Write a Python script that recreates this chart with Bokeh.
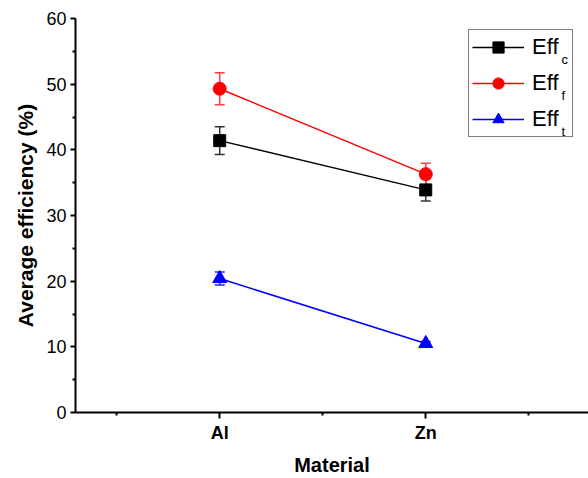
from bokeh.plotting import figure
from bokeh.models import (ColumnDataSource, Whisker, TeeHead, FixedTicker, Legend,
                          LegendItem, Label, Range1d)
from bokeh.embed import file_html
from bokeh.resources import INLINE

# ---- data ----
materials = ["Al", "Zn"]
eff_c = [41.4, 33.9]
eff_c_err = [2.1, 1.7]
eff_f = [49.3, 36.3]
eff_f_err = [2.45, 1.65]
eff_t = [20.4, 10.5]
eff_t_err = [1.0, 0.3]
series_names = ["Eff", "Eff", "Eff"]
series_subs = ["c", "f", "t"]
y_ticks = [0, 10, 20, 30, 40, 50, 60]

xs = [i + 1 for i in range(len(materials))]

FONT = "Liberation Sans"

p = figure(width=588, height=478, output_backend="svg", toolbar_location=None,
           x_range=Range1d(0.3, 2.79), y_range=Range1d(0, 60),
           min_border_left=75, min_border_right=0, min_border_top=18,
           min_border_bottom=66)
p.background_fill_color = "white"
p.border_fill_color = "white"
p.outline_line_color = None
p.grid.visible = False

series = [
    (eff_c, eff_c_err, "#000000", "square", 12, "#333333"),
    (eff_f, eff_f_err, "#ff0000", "circle", 13, "#ff4040"),
    (eff_t, eff_t_err, "#0000ff", "triangle", 14, "#2020ff"),
]

items = []
for k, (vals, errs, col, mk, sz, ecol) in enumerate(series):
    src = ColumnDataSource(dict(x=xs, y=vals,
                                lo=[v - e for v, e in zip(vals, errs)],
                                hi=[v + e for v, e in zip(vals, errs)]))
    w = Whisker(source=src, base="x", upper="hi", lower="lo",
                line_color=ecol, line_width=1.5,
                upper_head=TeeHead(size=10, line_color=ecol, line_width=1.5),
                lower_head=TeeHead(size=10, line_color=ecol, line_width=1.5))
    p.add_layout(w)
    ln = p.line("x", "y", source=src, line_color=col, line_width=1.5)
    sc = p.scatter("x", "y", source=src, marker=mk, size=sz,
                   fill_color=col, line_color=col)
    items.append(LegendItem(label=series_names[k], renderers=[ln, sc]))

# axes
xa = p.xaxis[0]
xa.ticker = FixedTicker(ticks=xs, minor_ticks=[0.5, 1.5, 2.5])
xa.major_label_overrides = {x: m for x, m in zip(xs, materials)}
xa.axis_label = "Material"
ya = p.yaxis[0]
ya.ticker = FixedTicker(ticks=y_ticks, minor_ticks=[5, 15, 25, 35, 45, 55])
ya.axis_label = "Average efficiency (%)"

for ax in (xa, ya):
    ax.axis_line_width = 2
    ax.axis_line_color = "black"
    ax.major_tick_line_width = 2
    ax.minor_tick_line_width = 2
    ax.major_tick_in = 0
    ax.minor_tick_in = 0
    ax.major_label_text_font = FONT
    ax.axis_label_text_font = FONT
    ax.axis_label_text_font_style = "bold"
    ax.axis_label_text_font_size = "20px"
    ax.major_label_text_color = "black"
    ax.axis_label_text_color = "black"

xa.major_tick_out = 6
xa.minor_tick_out = 3
xa.major_label_text_font_size = "18px"
xa.major_label_text_font_style = "bold"
xa.major_label_standoff = 4
xa.axis_label_standoff = 8

ya.major_tick_out = 5
ya.minor_tick_out = 3
ya.major_label_text_font_size = "18px"
ya.major_label_standoff = 4
ya.axis_label_standoff = 6
ya.axis_label_text_font_size = "21px"

legend = Legend(items=items, location=(393, 275),
                label_text_font=FONT, label_text_font_size="22px",
                label_text_color="black",
                glyph_width=52, glyph_height=28, label_height=28,
                label_width=37, label_standoff=8, spacing=8, padding=3,
                margin=0, border_line_color="black", border_line_width=1,
                background_fill_alpha=0)
p.add_layout(legend, "center")

# subscripts for legend labels (screen units from the frame's bottom-left)
row_y = [346, 310, 274]
for sub, ry in zip(series_subs, row_y):
    p.add_layout(Label(x=486, y=ry, x_units="screen", y_units="screen",
                       text=sub, text_font=FONT, text_font_size="13px",
                       text_color="black"))

open("out.html", "w").write(file_html(p, INLINE))
